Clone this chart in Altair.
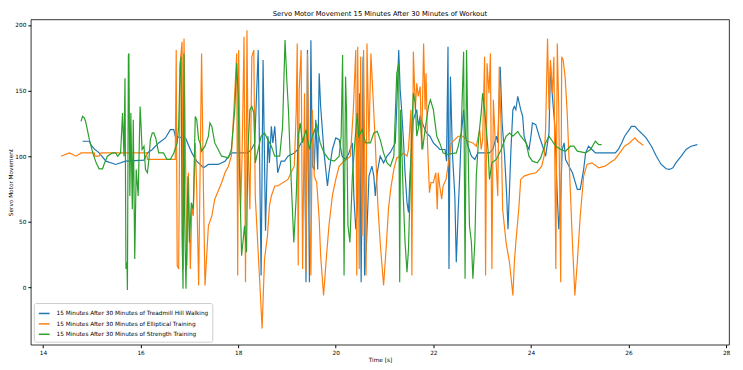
import altair as alt
import pandas as pd

# ---------------- data ----------------
names = [
    "15 Minutes After 30 Minutes of Treadmill Hill Walking",
    "15 Minutes After 30 Minutes of Elliptical Training",
    "15 Minutes After 30 Minutes of Strength Training",
]
colors = ["#1f77b4", "#ff7f0e", "#2ca02c"]

x_ticks = [14, 16, 18, 20, 22, 24, 26, 28]
y_ticks = [0, 50, 100, 150, 200]

blue_t = [14.81, 14.95, 14.98, 15.05, 15.15, 15.29, 15.49, 15.69, 16.07, 16.14, 16.24, 16.37, 16.51, 16.61, 16.68,
          16.71, 16.85, 16.92, 17.05, 17.15, 17.29, 17.39, 17.59, 17.73, 17.86, 18.20, 18.27, 18.34, 18.41, 18.47,
          18.51, 18.56, 18.61, 18.64, 18.68, 18.71, 18.75, 18.81, 18.85, 18.88, 18.95, 19.02, 19.15, 19.22, 19.29,
          19.36, 19.39, 19.42, 19.46, 19.49, 19.52, 19.56, 19.59, 19.63, 19.66, 19.69, 19.76, 19.83, 19.86, 19.93,
          20.00, 20.07, 20.13, 20.20, 20.27, 20.34, 20.37, 20.41, 20.44, 20.49, 20.52, 20.56, 20.59, 20.63, 20.68,
          20.74, 20.78, 20.81, 20.85, 20.91, 20.98, 21.05, 21.12, 21.22, 21.25, 21.29, 21.32, 21.35, 21.39, 21.42,
          21.46, 21.49, 21.52, 21.56, 21.59, 21.66, 21.69, 21.73, 21.80, 21.86, 21.93, 22.00, 22.07, 22.13, 22.24,
          22.27, 22.30, 22.32, 22.35, 22.39, 22.44, 22.47, 22.51, 22.54, 22.57, 22.62, 22.66, 22.71, 22.78, 22.85,
          22.91, 23.15, 23.22, 23.29, 23.32, 23.37, 23.41, 23.46, 23.50, 23.53, 23.56, 23.59, 23.63, 23.66, 23.69,
          23.73, 23.76, 23.79, 23.83, 23.86, 23.90, 23.96, 24.00, 24.03, 24.10, 24.17, 24.24, 24.30, 24.37, 24.40,
          24.44, 24.49, 24.54, 24.57, 24.61, 24.64, 24.68, 24.71, 24.78, 24.85, 24.91, 24.95, 25.01, 25.08, 25.12,
          25.18, 25.25, 25.32, 25.73, 25.79, 25.86, 25.92, 25.99, 26.06, 26.13, 26.19, 26.26, 26.36, 26.47, 26.57,
          26.67, 26.77, 26.84, 26.91, 26.97, 27.08, 27.18, 27.28, 27.41]
blue_v = [111.4, 111.4, 108.8, 105.6, 102.5, 96.2, 93.7, 96.2, 97.0, 102.5, 105.1, 110.1, 113.9, 120.2, 120.2,
          115.2, 113.9, 113.9, 102.5, 96.2, 91.2, 93.7, 93.7, 96.2, 102.5, 102.5, 105.1, 110.1, 180.8, 9.1,
          173.2, 43.2, 115.2, 94.9, 122.7, 110.1, 122.7, 87.4, 92.4, 96.2, 96.2, 100, 102.5, 105.1, 110.1,
          115.2, 4.0, 180.8, 4.0, 188.4, 92.4, 89.9, 127.8, 89.9, 163.1, 137.9, 102.5, 77.3, 87.4, 105.1,
          113.9, 112.6, 100, 97.5, 102.5, 110.1, 69.7, 44.4, 59.6, 148.0, 4.0, 175.8, 9.1, 34.3, 84.8,
          92.4, 84.8, 69.7, 87.4, 100, 94.9, 100, 103, 110.1, 137.9, 180.8, 150.5, 135.4, 110.1, 87.4,
          64.6, 57.1, 84.8, 110.1, 127.8, 135.4, 122.7, 130.3, 122.7, 117.7, 115.2, 110.1, 107.6, 105.1, 105.1,
          96.2, 183.3, 14.1, 160.6, 102.5, 69.7, 19.2, 59.6, 84.8, 115.2, 135.4, 115.2, 107.6, 100, 97.5,
          102.5, 102.5, 105.1, 115.2, 110.1, 168.2, 125.3, 100, 72.2, 44.4, 74.7, 105.1, 135.4, 137.9, 135.4,
          145.5, 140.4, 135.4, 130.3, 115.2, 110.1, 105.1, 115.2, 125.3, 124.0, 115.2, 107.6, 100, 117.7, 168.2,
          145.5, 122.7, 69.7, 44.4, 69.7, 105.1, 110.1, 97.5, 92.4, 87.4, 79.8, 74.7, 74.7, 89.9, 102.5,
          107.6, 105.1, 102.5, 102.5, 105.1, 110.1, 115.2, 118.9, 122.7, 122.7, 120.2, 117.7, 113.9, 107.6, 100,
          93.7, 90.4, 89.9, 91.2, 94.9, 100, 105.1, 107.6, 108.8]

orange_t = [14.37, 14.54, 14.68, 14.78, 15.05, 15.06, 15.15, 15.19, 16.12, 16.14, 16.71, 16.73, 16.75, 16.78, 16.81,
            16.85, 16.87, 16.89, 16.92, 16.95, 16.98, 17.02, 17.05, 17.08, 17.12, 17.15, 17.19, 17.25, 17.29, 17.32,
            17.39, 17.46, 17.52, 17.59, 17.66, 17.73, 17.80, 17.86, 17.93, 17.97, 17.99, 18.01, 18.05, 18.08, 18.12,
            18.15, 18.18, 18.20, 18.24, 18.28, 18.32, 18.35, 18.41, 18.46, 18.49, 18.54, 18.60, 18.64, 18.68, 18.75,
            18.81, 19.02, 19.08, 19.15, 19.19, 19.21, 19.23, 19.25, 19.29, 19.32, 19.36, 19.39, 19.42, 19.46, 19.49,
            19.52, 19.56, 19.61, 19.66, 19.69, 19.75, 19.80, 19.86, 19.93, 20.00, 20.07, 20.17, 20.30, 20.36, 20.41,
            20.43, 20.45, 20.48, 20.51, 20.54, 20.57, 20.62, 20.64, 20.68, 20.72, 20.76, 20.81, 20.86, 20.91, 20.98,
            21.04, 21.08, 21.13, 21.19, 21.25, 21.32, 21.39, 21.46, 21.49, 21.54, 21.56, 21.59, 21.63, 21.66, 21.69,
            21.73, 21.76, 21.80, 21.83, 21.85, 21.88, 21.92, 21.95, 22.00, 22.05, 22.08, 22.10, 22.13, 22.17, 22.20,
            22.26, 22.30, 22.37, 22.44, 22.51, 22.61, 22.71, 22.81, 22.88, 22.95, 22.98, 23.01, 23.05, 23.07, 23.10,
            23.14, 23.17, 23.20, 23.23, 23.29, 23.32, 23.35, 23.39, 23.42, 23.49, 23.56, 23.63, 23.66, 23.69, 23.75,
            23.79, 23.86, 23.96, 24.10, 24.17, 24.22, 24.27, 24.30, 24.34, 24.37, 24.40, 24.44, 24.47, 24.51, 24.54,
            24.57, 24.61, 24.63, 24.66, 24.70, 24.74, 24.79, 24.85, 24.90, 24.95, 25.01, 25.08, 25.15, 25.25, 25.39,
            25.52, 25.66, 25.72, 25.82, 25.92, 26.02, 26.09, 26.13, 26.19, 26.30]
orange_v = [100, 102.5, 100, 102.5, 102.5, 100, 100, 102.5, 102.5, 97.5, 97.5, 180.8, 16.7, 14.1, 170.7,
            187.1, 14.1, 189.6, 100, 16.7, 87.4, 14.1, 62.1, 54.5, 110.1, 74.7, 1.5, 178.3, 69.7, 1.5,
            47.0, 54.5, 67.2, 73.5, 79.8, 87.4, 92.4, 100, 148.0, 178.3, 9.1, 180.8, 59.6, 100, 190.9,
            4.0, 195.9, 115.2, 59.6, 175.8, 180.8, 69.7, 26.8, -8.6, -31.3, 21.7, 39.4, 62, 69.7, 77.3,
            77.3, 82.3, 87.4, 92.4, 135.4, 185.9, 16.7, 150.5, 180.8, 14.1, 148.0, 11.6, 178.3, 59.6, 9.1,
            135.4, 84.8, 79.8, 52.0, 24.2, -6.1, 19.2, 47.0, 69.7, 82.3, 92.4, 96.2, 100, 135.4, 180.8,
            9.1, 183.3, 14.1, 175.8, 39.4, 180.8, 9.1, 185.9, 110.1, 178.3, 148.0, 110.1, 64.6, 34.3, 1.5,
            34.3, 60, 76, 89.9, 98.7, 100, 102.5, 100, 105.1, 135.4, 9.1, 179.5, 135.4, 155.6, 145.5,
            153.0, 105.1, 185.9, 135.4, 163.1, 110.1, 72.2, 79.8, 79.8, 87.4, 59.6, 87.4, 77.3, 67.2, 77.3,
            82.3, 92.4, 110.1, 112.6, 115.2, 115.2, 111.4, 110.1, 107.6, 120.2, 105.1, 112.6, 175.8, 9.1, 170.7,
            148.0, 178.3, 14.1, 143.0, 92.4, 69.7, 168.2, 120.2, 59.6, 34.3, 19.2, -6.1, 19.2, 34.3, 59.6,
            82.3, 84.8, 86.1, 87.4, 89.9, 92.4, 100, 120.2, 189.6, 135.4, 173.2, 148.0, 175.8, 14.1, 185.9,
            135.4, 4.0, 175.8, 173.2, 160.6, 135.4, 89.9, 34.3, -6.1, 19.2, 54.5, 84.8, 93.7, 94.9, 91.2,
            92.4, 96.2, 97.5, 102.5, 107.6, 110.1, 112.6, 113.9, 111.4, 108.3]

green_t = [14.78, 14.81, 14.85, 14.88, 14.95, 15.02, 15.09, 15.15, 15.22, 15.25, 15.32, 15.42, 15.49, 15.53, 15.59,
           15.63, 15.66, 15.68, 15.70, 15.72, 15.73, 15.75, 15.76, 15.78, 15.80, 15.83, 15.85, 15.88, 15.91, 15.95,
           15.99, 16.01, 16.03, 16.07, 16.10, 16.14, 16.17, 16.20, 16.24, 16.27, 16.31, 16.37, 16.47, 16.54, 16.61,
           16.68, 16.75, 16.78, 16.81, 16.83, 16.85, 16.87, 16.89, 16.90, 16.93, 16.97, 17.00, 17.04, 17.08, 17.12,
           17.15, 17.19, 17.22, 17.25, 17.32, 17.39, 17.42, 17.46, 17.52, 17.59, 17.66, 17.80, 17.86, 17.93, 17.97,
           18.00, 18.03, 18.07, 18.13, 18.17, 18.20, 18.24, 18.28, 18.32, 18.35, 18.41, 18.47, 18.54, 18.61, 18.68,
           18.75, 18.85, 18.91, 18.96, 19.00, 19.03, 19.06, 19.10, 19.14, 19.19, 19.23, 19.27, 19.32, 19.39, 19.46,
           19.52, 19.61, 19.68, 19.76, 19.86, 19.97, 20.07, 20.11, 20.14, 20.17, 20.20, 20.22, 20.25, 20.29, 20.34,
           20.39, 20.44, 20.47, 20.54, 20.61, 20.71, 20.78, 20.85, 20.91, 20.98, 21.05, 21.12, 21.19, 21.25, 21.29,
           21.31, 21.33, 21.38, 21.42, 21.46, 21.49, 21.52, 21.56, 21.59, 21.63, 21.66, 21.73, 21.78, 21.83, 21.90,
           21.94, 22.00, 22.07, 22.13, 22.20, 22.27, 22.47, 22.51, 22.57, 22.62, 22.65, 22.68, 22.71, 22.74, 22.78,
           22.81, 22.85, 22.88, 22.93, 22.98, 23.01, 23.05, 23.12, 23.15, 23.20, 23.29, 23.39, 23.49, 23.56, 23.63,
           23.73, 23.79, 23.90, 23.96, 24.03, 24.13, 24.20, 24.30, 24.37, 24.44, 24.51, 24.61, 24.71, 24.81, 24.88,
           24.95, 25.12, 25.22, 25.32, 25.39, 25.45]
green_v = [126.5, 130.3, 129.0, 125.3, 112.6, 102.5, 94.9, 90.4, 90.4, 93.7, 100, 102.5, 102.5, 100, 102.5,
           132.8, 100, 159.3, 14.1, 19.2, -2, 177.0, 178.3, 69.7, 132.8, 59.6, 127.8, 21.7, 89.9, 69.7,
           137.9, 122.7, 105.1, 107.6, 89.9, 87.4, 97.5, 112.6, 117.7, 117.7, 113.9, 102.5, 102.5, 97.5, 97.5,
           102.5, 110.1, 122.7, 168.2, 175.8, 39.4, -1, 178.3, 59.6, -1, 84.8, 34.3, 64.6, 59.6, 130.3,
           127.8, 112.6, 110.1, 103.8, 107.6, 115.2, 125.3, 122.7, 110.1, 105.1, 100, 98.7, 105.1, 135.4, 171.0,
           145.5, 84.8, 24.2, 47.0, 26.8, 105.1, 135.4, 137.9, 132.8, 94.9, 105.1, 115.2, 117.7, 112.6, 107.6,
           100, 100, 122.7, 188.4, 155.6, 135.4, 105.1, 69.7, 34.3, 69.7, 115.2, 125.3, 110.1, 120.2, 105.1,
           115.2, 124.0, 110.1, 102.5, 97.5, 96.2, 100, 115.2, 177.0, 9.1, 160.6, 135.4, 47.0, 34.3, 84.8,
           110.1, 132.8, 115.2, 120.2, 110.1, 110.1, 117.7, 118.9, 112.6, 102.5, 94.9, 92.4, 100, 163.1, 170.7,
           4.0, 135.4, 72.2, 34.3, 11.6, 29.3, 69.7, 122.7, 148.0, 140.4, 115.2, 127.8, 105.1, 120.2, 137.9,
           142.9, 135.4, 115.2, 110.1, 102.5, 101.3, 102.5, 107.6, 117.7, 179.5, 6.6, 180.8, 110.1, 47.0, 34.3,
           6.6, 34.3, 84.8, 115.2, 132.8, 148.0, 135.4, 105.1, 82.3, 94.9, 97.5, 105.1, 115.2, 117.7, 115.2,
           118.9, 115.2, 110.1, 100, 96.2, 94.9, 98.7, 110.1, 115.2, 111.4, 107.6, 105.1, 103.8, 107.6, 107.6,
           103.8, 102.5, 105.1, 111.4, 108.8, 108.8]

# ---------------- table ----------------
frames = []
for name, ts, vs in zip(names, [blue_t, orange_t, green_t], [blue_v, orange_v, green_v]):
    frames.append(pd.DataFrame({"time": ts, "value": vs, "series": name}))
df = pd.concat(frames, ignore_index=True)

FONT = "DejaVu Sans"

chart = (
    alt.Chart(
        df,
        title=alt.Title(
            text="Servo Motor Movement 15 Minutes After 30 Minutes of Workout",
            fontSize=6.8, font=FONT, fontWeight="normal", color="black",
            anchor="middle", offset=2,
        ),
    )
    .mark_line(strokeWidth=1.2, clip=True)
    .encode(
        x=alt.X(
            "time:Q",
            scale=alt.Scale(domain=[13.75, 28.06], nice=False, zero=False),
            axis=alt.Axis(values=x_ticks, format="d", title="Time [s]", grid=False, domain=False,
                          tickSize=3, tickColor="black", labelPadding=1.5, titlePadding=2),
        ),
        y=alt.Y(
            "value:Q",
            scale=alt.Scale(domain=[-43.6, 204.2], nice=False, zero=False),
            axis=alt.Axis(values=y_ticks, format="d", title="Servo Motor Movement", grid=False, domain=False,
                          tickSize=3, tickColor="black", labelPadding=2,
                          titleX=-20, titleY=164, titleBaseline="middle", titleAlign="center", titleAngle=270),
        ),
        color=alt.Color(
            "series:N",
            sort=names,
            scale=alt.Scale(domain=names, range=colors),
            legend=alt.Legend(
                title=None, orient="bottom-left", offset=3,
                fillColor="white", strokeColor="#cccccc", cornerRadius=2, padding=4,
                symbolType="stroke", symbolSize=120, symbolStrokeWidth=1.5,
                labelFontSize=5.8, labelFont=FONT, labelColor="black", labelLimit=400,
                rowPadding=0.5, labelOffset=6,
            ),
        ),
    )
    .properties(
        width=704,
        height=328,
        autosize=alt.AutoSizeParams(type="none"),
        padding={"left": 23, "top": 10, "right": 6, "bottom": 22},
        background="white",
    )
    .configure_view(stroke="black", strokeWidth=0.8)
    .configure_axis(
        labelFont=FONT, titleFont=FONT, labelFontSize=5.8, titleFontSize=5.8,
        labelColor="black", titleColor="black", titleFontWeight="normal",
    )
)

chart.save("out.html", embed_options={"renderer": "svg", "actions": False})
